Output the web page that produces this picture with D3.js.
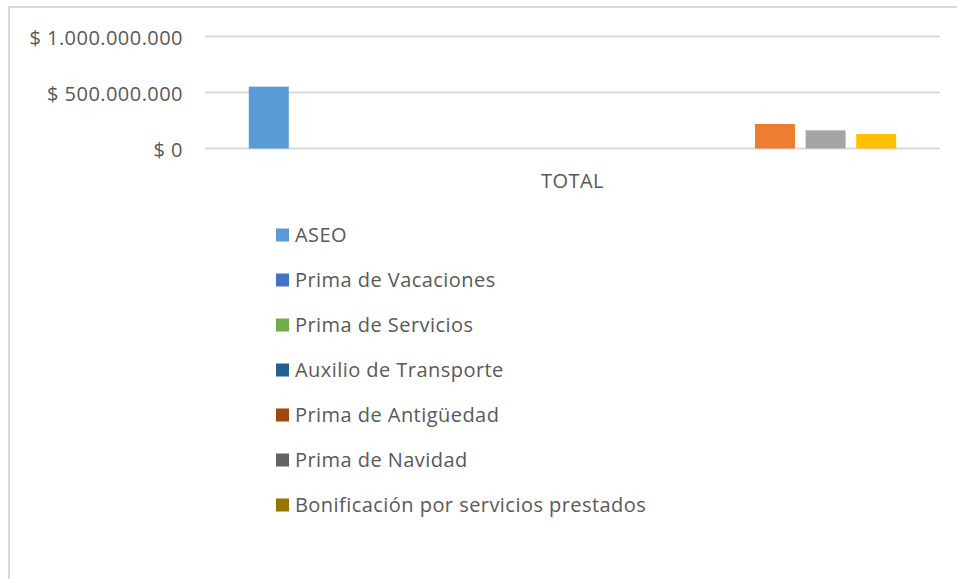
<!DOCTYPE html>
<html>
<head>
<meta charset="utf-8">
<script src="https://cdn.jsdelivr.net/npm/d3@7"></script>
<style>
  html, body { margin: 0; padding: 0; background: #fff; }
  svg { display: block; }
  text { font-family: "Open Sans", "Liberation Sans", sans-serif; fill: #595959; letter-spacing: 0.45px; }
</style>
</head>
<body>
<svg id="chart" width="957" height="579"></svg>
<script>
// ---- data ----
const categories = ["TOTAL"];
const seriesNames = [
  "ASEO", "Prima de Vacaciones", "Prima de Servicios", "Auxilio de Transporte",
  "Prima de Antigüedad", "Prima de Navidad", "Bonificación por servicios prestados",
  "Serie 8", "Serie 9", "Serie 10", "Serie 11", "Serie 12", "Serie 13"
];
const seriesValues = [552000000, 0, 0, 0, 0, 0, 0, 0, 0, 0, 219000000, 162000000, 129000000];
const seriesColors = ["#5B9BD5", "#4472C4", "#70AD47", "#255E91", "#9E480E", "#636363", "#997300",
                      "#264478", "#43682B", "#698ED0", "#ED7D31", "#A5A5A5", "#FFC000"];
const legendCount = 7;
const yTicks = [0, 500000000, 1000000000];
const yTickLabels = ["$ 0", "$ 500.000.000", "$ 1.000.000.000"];

// ---- layout ----
const svg = d3.select("#chart");
const plot = { left: 205, right: 940, top: 36.5, bottom: 148.5 };
const FS = 20;

// chart border
svg.append("path")
  .attr("d", "M9,579 L9,7 L957,7")
  .attr("fill", "none").attr("stroke", "#d9d9d9").attr("stroke-width", 2);

const y = d3.scaleLinear().domain([0, 1000000000]).range([plot.bottom, plot.top]);
const x0 = d3.scaleBand().domain(categories).range([plot.left, plot.right]).paddingInner(0).paddingOuter(0);
const x1 = d3.scaleBand().domain(d3.range(seriesNames.length))
  .range([0, x0.bandwidth()]).paddingInner(0.21).paddingOuter(0.865);

// gridlines
svg.append("g").selectAll("line").data(yTicks).join("line")
  .attr("x1", plot.left).attr("x2", plot.right)
  .attr("y1", d => y(d)).attr("y2", d => y(d))
  .attr("stroke", "#d9d9d9").attr("stroke-width", 2);

// y axis labels
const yAxis = d3.axisLeft(y).tickValues(yTicks)
  .tickFormat((d, i) => yTickLabels[i]).tickSize(0).tickPadding(0);
const yg = svg.append("g").attr("transform", "translate(183,0)").call(yAxis);
yg.select(".domain").remove();
yg.selectAll("text").attr("font-size", FS).attr("fill", "#595959")
  .style("font-family", '"Open Sans", "Liberation Sans", sans-serif').attr("dy", "0.38em");

// bars
const g = svg.append("g");
categories.forEach(cat => {
  g.selectAll("rect.s").data(seriesValues).join("rect")
    .attr("x", (d, i) => x0(cat) + x1(i))
    .attr("width", x1.bandwidth())
    .attr("y", d => y(d))
    .attr("height", d => plot.bottom - y(d))
    .attr("fill", (d, i) => seriesColors[i]);
});

// x axis label
const xAxis = d3.axisBottom(x0).tickSize(0).tickPadding(0);
const xg = svg.append("g").attr("transform", `translate(0,${plot.bottom + 32})`).call(xAxis);
xg.select(".domain").remove();
xg.selectAll("text").attr("font-size", FS).attr("fill", "#595959").attr("dy", "0.36em")
  .style("font-family", '"Open Sans", "Liberation Sans", sans-serif');

// legend
const legend = svg.append("g");
const items = legend.selectAll("g").data(seriesNames.slice(0, legendCount)).join("g")
  .attr("transform", (d, i) => `translate(276,${235 + i * 45.0})`);
items.append("rect").attr("x", 0).attr("y", -6.5).attr("width", 13).attr("height", 13)
  .attr("fill", (d, i) => seriesColors[i]);
items.append("text").attr("x", 19).attr("dy", "0.37em").attr("font-size", FS)
  .text(d => d);
</script>
</body>
</html>
